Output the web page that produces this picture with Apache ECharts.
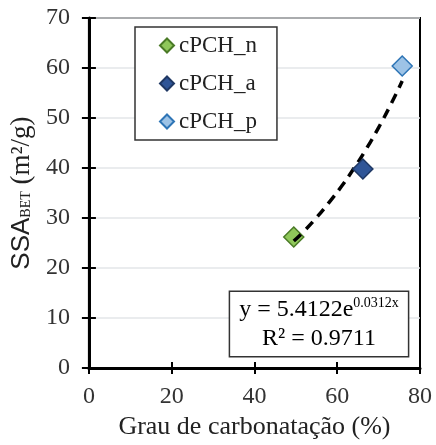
<!DOCTYPE html>
<html>
<head>
<meta charset="utf-8">
<script src="https://cdn.jsdelivr.net/npm/echarts@6/dist/echarts.min.js"></script>
<style>
  html, body { margin: 0; padding: 0; background: #fff; }
  #chart { width: 436px; height: 445px; }
</style>
</head>
<body>
<div id="chart"></div>
<script>
// points: [grau de carbonatação, SSA]
const ptN = [[49.5, 26.2]]
const ptA = [[66.2, 39.8]]
const ptP = [[75.7, 60.4]]
// exponential trendline y = 5.4122e^0.0312x, read along the dashes
const trendX = [49.5, 52, 55, 58, 61, 64, 67, 70, 73, 75.7]
const trendY = [25.4, 27.4, 30.1, 33.1, 36.3, 39.9, 43.8, 48.1, 52.8, 57.4]
const seriesNames = ['cPCH_n', 'cPCH_a', 'cPCH_p']
const eqLine1 = 'y = 5.4122e'
const eqExp = '0.0312x'
const eqLine2 = 'R² = 0.9711'

const serif = '"Liberation Serif", "DejaVu Serif", serif'
const sans = '"Liberation Sans", Arial, sans-serif'
const chart = echarts.init(document.getElementById('chart'))

const trend = trendX.map((x, i) => [x, trendY[i]])

chart.setOption({
  animation: false,
  grid: {
    left: 87, right: 16, top: 18, bottom: 76,
    show: true,
    borderColor: '#000',
    borderWidth: 2
  },
  legend: {
    orient: 'vertical',
    left: 135,
    top: 27,
    padding: [7, 20, 7, 24],
    itemWidth: 14,
    itemHeight: 14,
    itemGap: 15,
    borderColor: '#333',
    borderWidth: 1.5,
    backgroundColor: '#fff',
    data: seriesNames.map(n => ({ name: n, icon: 'diamond' })),
    textStyle: { fontFamily: serif, fontSize: 23, color: '#222' }
  },
  xAxis: [
    {
      type: 'value',
      min: 0, max: 80, interval: 20,
      name: 'Grau de carbonatação (%)',
      nameLocation: 'middle',
      nameGap: 43,
      nameTextStyle: { fontFamily: serif, fontSize: 26, color: '#222' },
      axisLine: { show: true, onZero: false, lineStyle: { color: '#000', width: 3 } },
      axisTick: { show: true, length: 6, lineStyle: { color: '#000', width: 2 } },
      axisLabel: { fontFamily: serif, fontSize: 24, color: '#333', margin: 17 },
      splitLine: { show: false }
    },
    {
      type: 'value',
      min: 0, max: 80, interval: 20,
      position: 'bottom',
      axisLine: { show: false },
      axisTick: { show: true, inside: true, length: 6, lineStyle: { color: '#000', width: 2 } },
      axisLabel: { show: false },
      splitLine: { show: false }
    }
  ],
  yAxis: [
    {
      type: 'value',
      min: 0, max: 70, interval: 10,
      name: '{a|SSA}{s|BET}{t| (m²/g)}',
      nameLocation: 'middle',
      nameGap: 52,
      nameRotate: 90,
      nameTextStyle: {
        rich: {
          a: { fontFamily: sans, fontSize: 26, color: '#222' },
          t: { fontFamily: serif, fontSize: 27, color: '#222' },
          s: { fontFamily: serif, fontSize: 14, color: '#222', padding: [10, 0, 0, 0] }
        }
      },
      axisLine: { show: true, onZero: false, lineStyle: { color: '#000', width: 3 } },
      axisTick: { show: true, length: 7, lineStyle: { color: '#000', width: 2 } },
      axisLabel: { fontFamily: serif, fontSize: 24, color: '#333', margin: 19 },
      splitLine: { show: true, lineStyle: { color: '#e3e6e8', width: 1.5 } }
    },
    {
      type: 'value',
      min: 0, max: 70, interval: 10,
      position: 'left',
      axisLine: { show: false },
      axisTick: { show: true, inside: true, length: 7, lineStyle: { color: '#000', width: 2 } },
      axisLabel: { show: false },
      splitLine: { show: false }
    }
  ],
  series: [
    {
      name: 'trend',
      type: 'line',
      data: trend,
      smooth: true,
      showSymbol: false,
      z: 3,
      lineStyle: { color: '#000', width: 3.5, type: [10, 7] }
    },
    {
      name: seriesNames[0],
      type: 'scatter',
      data: ptN,
      symbol: 'diamond',
      symbolSize: 20,
      z: 2,
      itemStyle: { color: '#8fc75a', borderColor: '#4a7a26', borderWidth: 1.5, opacity: 1 }
    },
    {
      name: seriesNames[1],
      type: 'scatter',
      data: ptA,
      symbol: 'diamond',
      symbolSize: 20,
      z: 4,
      itemStyle: { color: '#2f5597', borderColor: '#1f3864', borderWidth: 1.5, opacity: 1 }
    },
    {
      name: seriesNames[2],
      type: 'scatter',
      data: ptP,
      symbol: 'diamond',
      symbolSize: 20,
      z: 4,
      itemStyle: { color: '#9dc3e6', borderColor: '#2e75b6', borderWidth: 1.5, opacity: 1 }
    }
  ],
  graphic: [
    {
      type: 'text',
      x: 319,
      y: 292,
      z: 10,
      style: {
        text: '{b|' + eqLine1 + '}{e|' + eqExp + '}\n{b|' + eqLine2 + '}',
        align: 'center',
        verticalAlign: 'top',
        backgroundColor: '#fff',
        borderColor: '#333',
        borderWidth: 1.5,
        padding: [3, 9, 3, 9],
        rich: {
          b: { fontFamily: serif, fontSize: 24, color: '#222', lineHeight: 29 },
          e: { fontFamily: serif, fontSize: 14, color: '#222', lineHeight: 29, padding: [0, 0, 12, 0] }
        }
      }
    }
  ]
})
</script>
</body>
</html>
